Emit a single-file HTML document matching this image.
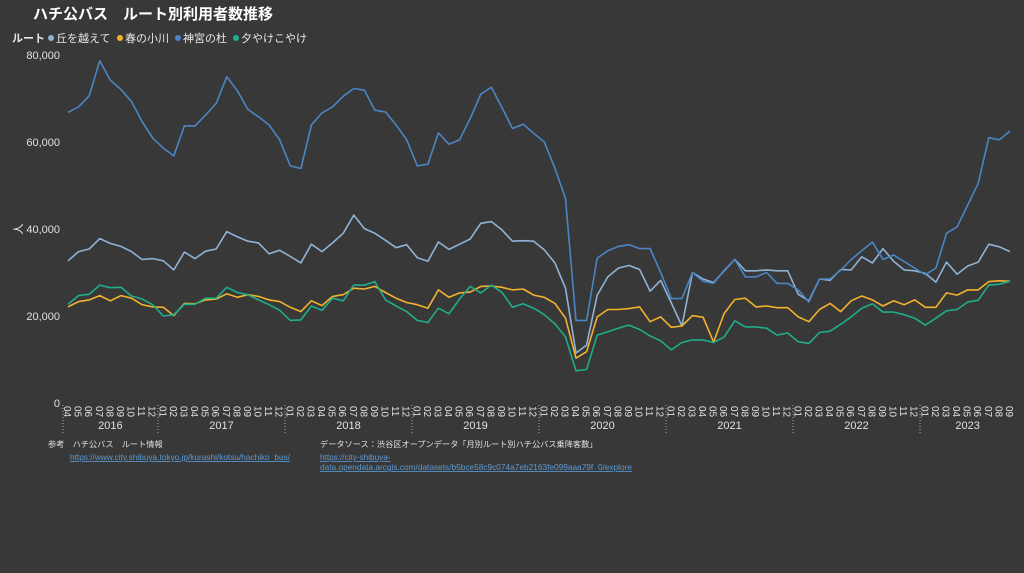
<!DOCTYPE html>
<html><head><meta charset="utf-8">
<style>
body{margin:0;background:#383838;width:1024px;height:573px;overflow:hidden;font-family:"Liberation Sans","Noto Sans CJK JP",sans-serif;color:#fff}
svg{position:absolute;left:0;top:0}
</style></head>
<body>
<svg width="1024" height="573">
<text x="33" y="19" font-size="15" font-weight="bold" fill="#fff">ハチ公バス　ルート別利用者数推移</text>
<g id="legend" font-size="11" fill="#e8e8e8">
<text x="12" y="42" font-weight="bold">ルート</text>
</g>
<g id="grid"></g>
<g id="yaxis" font-size="11" fill="#e0e0e0"></g>
<text transform="translate(22,229) rotate(-90)" font-size="11" fill="#e0e0e0" text-anchor="middle">人</text>
<g id="xaxis" font-size="10" fill="#e0e0e0"></g>
<g id="lines"></g>
<g font-size="8.2">
<text x="48" y="447" fill="#e0e0e0">参考　ハチ公バス　ルート情報</text>
<text x="70" y="460" fill="#5b9bd5" text-decoration="underline" textLength="220" lengthAdjust="spacingAndGlyphs">https://www.city.shibuya.tokyo.jp/kurashi/kotsu/hachiko_bus/</text>
<text x="320" y="447" fill="#e0e0e0">データソース：渋谷区オープンデータ「月別ルート別ハチ公バス乗降客数」</text>
<text x="320" y="460" fill="#5b9bd5" text-decoration="underline">https://city-shibuya-</text>
<text x="320" y="470" fill="#5b9bd5" text-decoration="underline" textLength="312" lengthAdjust="spacingAndGlyphs">data.opendata.arcgis.com/datasets/b5bce58c9c074a7eb2163fe099aaa79f_0/explore</text>
</g>
</svg>
<script>
const seriesNames=["丘を越えて","春の小川","神宮の杜","夕やけこやけ"];
const seriesColors=["#8fb3d6","#f2b22c","#4a86c4","#1fae8a"];
const startYear=2016, startMonth=4;
const yTicks=[0,20000,40000,60000,80000];
const okaValues=[32.7,34.8,35.4,37.8,36.7,36,34.8,33,33.2,32.7,30.6,34.7,33.2,34.9,35.4,39.4,38.2,37.2,36.8,34.3,35.1,33.7,32.2,36.5,34.8,36.8,39,43.2,40.1,39,37.4,35.7,36.4,33.4,32.6,37,35.3,36.5,37.7,41.3,41.7,39.8,37.2,37.3,37.2,35.2,32.2,26.4,11.5,13.3,24.8,29,31,31.6,30.7,25.7,28.2,23,17.7,30,28.5,27.7,30.4,33,30.4,30.4,30.6,30.4,30.4,25,23.5,28.5,28.2,30.7,30.6,33.6,32.2,35.5,32.6,30.6,30.4,29.8,27.8,32.4,29.6,31.5,32.4,36.5,35.9,34.8];
const haruValues=[22.1,23.3,23.7,24.7,23.5,24.7,24.1,22.6,22.1,22,20.1,22.9,22.8,23.7,23.9,25.1,24.3,24.9,24.5,23.7,23.3,22,21,23.5,22.4,24.5,24.9,26.4,26.2,26.8,25.4,24.1,23.1,22.6,21.8,26,24.3,25.3,25.5,26.8,26.9,26.6,26,26.2,24.8,24.3,22.9,19.5,10.3,11.8,19.8,21.5,21.5,21.7,22.1,18.7,19.8,17.4,17.7,20.1,19.7,14,20.6,23.8,24.1,22.1,22.3,21.9,21.9,19.8,18.7,21.5,22.9,21,23.5,24.6,23.7,22.3,23.5,22.6,23.7,22,22,25.3,24.8,26,26,27.9,28.1,28];
const jinguValues=[66.8,68.1,70.6,78.7,74.2,72.1,69.3,64.7,60.9,58.6,56.8,63.7,63.7,66.2,68.9,75,71.8,67.5,65.8,63.9,60.5,54.5,53.9,63.9,66.7,68.1,70.5,72.3,71.9,67.3,66.9,63.9,60.5,54.5,54.9,62.1,59.5,60.5,65.4,71,72.6,67.9,63.1,64.1,62,60,54,47,19,19,33.3,35,36,36.4,35.5,35.5,30,24,24,30,28,27.5,30.5,33,29,29,30,27.5,27.5,26,23.2,28.5,28.5,30.5,33,35,37,33,34,32.5,31,29.5,31,39,40.5,45.5,50.5,61,60.5,62.5];
const yuyakeValues=[22.7,24.7,25,27.1,26.5,26.6,24.6,23.9,22.6,20,20.3,22.7,22.7,24.1,24.1,26.6,25.4,24.9,23.7,22.6,21.3,19,19.1,22.3,21.3,24.1,23.5,27.1,27.1,27.9,23.7,22.3,21,19,18.5,21.8,20.5,23.9,26.8,25.3,27.1,25.4,22,22.8,21.8,20.3,18.2,15.2,7.4,7.7,15.6,16.4,17.2,17.9,16.9,15.4,14.3,12.2,13.9,14.5,14.5,13.9,15.2,18.9,17.5,17.5,17.2,15.6,16.1,14.1,13.7,16.2,16.5,18.1,19.8,21.8,22.8,20.9,20.9,20.3,19.5,17.9,19.5,21.2,21.5,23.2,23.6,27.1,27.3,28];
const allSeries=[okaValues,haruValues,jinguValues,yuyakeValues];
const NS="http://www.w3.org/2000/svg";
const X0=68,X1=1010,Y0=403,Y1=55,YMAX=80000;
const n=okaValues.length;
function xs(i){return X0+i*(X1-X0)/(n-1);}
function ys(v){return Y0-(v/YMAX)*(Y0-Y1);}
function mk(tag,attrs,parent){const e=document.createElementNS(NS,tag);for(const k in attrs)e.setAttribute(k,attrs[k]);parent.appendChild(e);return e;}
const grid=document.getElementById('grid'),yaxis=document.getElementById('yaxis'),xaxis=document.getElementById('xaxis'),lines=document.getElementById('lines'),legend=document.getElementById('legend');
yTicks.forEach(t=>{
 if(t>0){const g=mk('line',{x1:64,x2:1016,y1:ys(t),y2:ys(t),stroke:'#444',"stroke-dasharray":'1,2'},grid);
 
 }
 const tx=mk('text',{x:60,y:ys(t)+4,"text-anchor":'end'},yaxis);
 tx.textContent=t.toLocaleString('en-US');
 
 
});
let yearStart=0;
for(let i=0;i<n;i++){
 const m=(startMonth-1+i)%12+1;
 const tx=mk('text',{transform:`translate(${xs(i)-4},406) rotate(90)`},xaxis);
 tx.textContent=String(m).padStart(2,'0');
 
 
 if(m===12||i===n-1){
  const yr=startYear+Math.floor((startMonth-1+i)/12);
  const yl=mk('text',{x:(xs(yearStart)+xs(i))/2,y:429,"text-anchor":'middle',"font-size":11},xaxis);
  yl.textContent=yr;
  
  
  if(i<n-1){const sep=mk('line',{x1:xs(i)+5.3,x2:xs(i)+5.3,y1:405,y2:435,stroke:'#aaa',"stroke-dasharray":'1,2'},xaxis);
  
  }
  yearStart=i+1;
 }
}
const first=mk('line',{x1:63,x2:63,y1:405,y2:435,stroke:'#aaa',"stroke-dasharray":'1,2'},xaxis);


let lx=48;
seriesNames.forEach((nm,k)=>{
 const c=mk('circle',{cx:lx+3,cy:38,r:3,fill:seriesColors[k]},legend);
 
 
 const t=mk('text',{x:lx+8,y:42},legend);
 t.textContent=nm;
 
 
 lx+=8+nm.length*11+6;
});
allSeries.forEach((vals,k)=>{
 const pts=vals.map((v,i)=>xs(i).toFixed(1)+','+ys(v*1000).toFixed(1)).join(' ');
 const p=mk('polyline',{points:pts,fill:'none',stroke:seriesColors[k],"stroke-width":1.6,"stroke-linejoin":'round'},lines);
 
 
});
</script>
</body></html>
